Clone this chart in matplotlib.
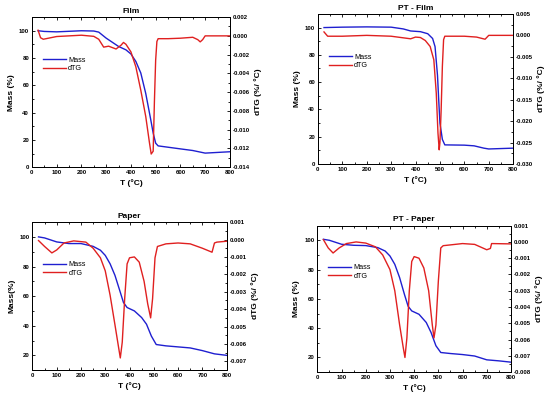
import matplotlib
matplotlib.use("Agg")
import matplotlib.pyplot as plt
from matplotlib.ticker import MultipleLocator, FormatStrFormatter

plt.rcParams['font.family'] = ['Liberation Sans', 'DejaVu Sans']

# ---------------- Data ----------------
film_T_mass = [25, 50, 100, 200, 250, 270, 300, 350, 380, 400, 420, 440, 460, 480, 490, 500, 510, 600, 650, 700, 800]
film_mass = [100, 99.5, 99.2, 100, 99.8, 99, 94.6, 88.5, 86, 83, 77.5, 69, 54, 35, 25, 17.6, 15.6, 13.4, 12.2, 10.3, 11.3]
film_T_dtg = [25, 35, 46, 100, 200, 250, 270, 290, 310, 340, 360, 370, 380, 400, 420, 440, 460, 475, 482, 490, 495, 500, 505, 510, 550, 600, 650, 670, 680, 690, 700, 800]
film_dtg = [0.0006, -0.0002, -0.00036, -0.00007, 0.00007, -0.00005, -0.00036, -0.0012, -0.0011, -0.0014, -0.0010, -0.0007, -0.0009, -0.0017, -0.0033, -0.0058, -0.0086, -0.0114, -0.0126, -0.0123, -0.0070, -0.0026, -0.0006, -0.0003, -0.0003, -0.00025, -0.00015, -0.0004, -0.00064, -0.0004, 0.0, 0.0]

ptf_T_mass = [25, 100, 200, 300, 350, 380, 420, 450, 470, 480, 490, 495, 500, 510, 520, 600, 640, 680, 700, 800]
ptf_mass = [100, 100.3, 100.5, 100.3, 99, 97.5, 97, 95.5, 92, 86, 65, 47, 30, 18, 14, 13.8, 13.3, 11.6, 11, 11.6]
ptf_T_dtg = [25, 40, 100, 200, 300, 380, 400, 420, 440, 460, 475, 485, 492, 497, 500, 505, 510, 515, 520, 600, 650, 685, 700, 800]
ptf_dtg = [0.0008, -0.0002, -0.0002, 0.0, -0.0002, -0.0008, -0.0004, -0.0005, -0.0012, -0.0026, -0.0057, -0.0135, -0.0228, -0.0267, -0.0250, -0.0174, -0.0072, -0.0010, -0.0002, -0.0002, -0.0004, -0.0009, 0.0, 0.0]

pap_T_mass = [25, 50, 100, 150, 200, 250, 280, 300, 320, 340, 360, 375, 390, 420, 450, 470, 490, 510, 550, 600, 650, 700, 750, 800]
pap_mass = [100, 99.3, 96.6, 95.5, 95.5, 93.6, 91, 87.5, 81.8, 74, 63.6, 55.7, 52.3, 50, 45.5, 41, 33, 27.3, 26.4, 25.7, 25, 23.2, 21, 20]
pap_T_dtg = [25, 50, 80, 100, 130, 170, 220, 250, 280, 300, 320, 340, 355, 362, 370, 380, 390, 400, 420, 440, 460, 475, 487, 495, 505, 515, 550, 600, 650, 700, 740, 750, 760, 800]
pap_dtg = [-0.00006, -0.0004, -0.00077, -0.0006, -0.0002, -0.00008, -0.00015, -0.0005, -0.00105, -0.0018, -0.0032, -0.0049, -0.0062, -0.0068, -0.0059, -0.0034, -0.0014, -0.00105, -0.0010, -0.0013, -0.0024, -0.0037, -0.0045, -0.0034, -0.00105, -0.0004, -0.00025, -0.0002, -0.00025, -0.0005, -0.00073, -0.0002, -0.00015, -0.0001]

ptp_T_mass = [25, 50, 100, 150, 200, 250, 280, 300, 320, 340, 360, 375, 390, 420, 450, 470, 490, 510, 550, 600, 650, 700, 750, 800]
ptp_mass = [100.7, 100, 97.3, 96.6, 96.4, 95, 92.7, 89.3, 83.6, 74.5, 63, 55, 51.8, 49.5, 43.9, 37, 28, 23.4, 22.7, 22, 21, 18.4, 17.7, 16.8]
ptp_T_dtg = [25, 45, 65, 90, 120, 160, 200, 240, 270, 300, 320, 340, 355, 362, 370, 380, 390, 400, 420, 440, 460, 475, 482, 490, 500, 510, 520, 600, 650, 700, 715, 720, 800]
ptp_dtg = [0.00014, -0.00037, -0.00068, -0.00037, -0.0001, 0.0, -0.00007, -0.0003, -0.0008, -0.0017, -0.0030, -0.0051, -0.0065, -0.0071, -0.0059, -0.0030, -0.0012, -0.0009, -0.0010, -0.0016, -0.0030, -0.0051, -0.0059, -0.0051, -0.0024, -0.00037, -0.00023, -0.0001, -0.00015, -0.00048, -0.0004, -0.0001, -0.00012]

panels = [
    dict(title="Film", Tm=film_T_mass, m=film_mass, Td=film_T_dtg, d=film_dtg,
         pos=[0.058, 0.580, 0.360, 0.377], ylim=(0, 110), rlim=(-0.014, 0.002),
         rmaj=0.002, ylabel="Mass (%)", fmt="%.3f"),
    dict(title="PT - Film", Tm=ptf_T_mass, m=ptf_mass, Td=ptf_T_dtg, d=ptf_dtg,
         pos=[0.578, 0.588, 0.355, 0.377], ylim=(0, 110), rlim=(-0.030, 0.005),
         rmaj=0.005, ylabel="Mass (%)", fmt="%.3f"),
    dict(title="Paper", Tm=pap_T_mass, m=pap_mass, Td=pap_T_dtg, d=pap_dtg,
         pos=[0.059, 0.070, 0.353, 0.372], ylim=(10, 110), rlim=(-0.0075, 0.001),
         rmaj=0.001, ylabel="Mass(%)", fmt="%.3f"),
    dict(title="PT - Paper", Tm=ptp_T_mass, m=ptp_mass, Td=ptp_T_dtg, d=ptp_dtg,
         pos=[0.577, 0.065, 0.352, 0.368], ylim=(10, 110), rlim=(-0.008, 0.001),
         rmaj=0.001, ylabel="Mass (%)", fmt="%.3f"),
]

BLUE = "#1f1fd0"
RED = "#e02020"
fs_tick = 4.3
fs_lab = 6

fig = plt.figure(figsize=(5.5, 3.98), dpi=100)
for p in panels:
    ax = fig.add_axes(p["pos"])
    l1, = ax.plot(p["Tm"], p["m"], color=BLUE, lw=1.0, label="Mass")
    ax.set_xlim(0, 800)
    ax.set_ylim(*p["ylim"])
    ax.xaxis.set_major_locator(MultipleLocator(100))
    ax.xaxis.set_minor_locator(MultipleLocator(50))
    ax.yaxis.set_major_locator(MultipleLocator(20))
    ax.yaxis.set_minor_locator(MultipleLocator(10))
    ax.tick_params(which="both", direction="in", top=True, labelsize=fs_tick, width=0.6, pad=2)
    ax.tick_params(which="major", length=2.5)
    ax.tick_params(which="minor", length=1.5)
    for lab in ax.get_xticklabels() + ax.get_yticklabels():
        lab.set_fontweight("bold")
    ax.set_xlabel("T (°C)", fontsize=fs_lab, fontweight="bold", labelpad=3)
    ax.set_ylabel(p["ylabel"], fontsize=fs_lab, fontweight="bold", labelpad=3)
    ax.set_title(p["title"], fontsize=fs_lab, fontweight="bold", pad=3)
    for s in ax.spines.values():
        s.set_linewidth(0.7)
    ax2 = ax.twinx()
    l2, = ax2.plot(p["Td"], p["d"], color=RED, lw=1.0, label="dTG")
    ax2.set_ylim(*p["rlim"])
    ax2.yaxis.set_major_locator(MultipleLocator(p["rmaj"]))
    ax2.yaxis.set_minor_locator(MultipleLocator(p["rmaj"] / 2))
    ax2.yaxis.set_major_formatter(FormatStrFormatter(p["fmt"]))
    ax2.tick_params(which="both", direction="in", labelsize=fs_tick, width=0.6, pad=2)
    ax2.tick_params(which="major", length=2.5)
    ax2.tick_params(which="minor", length=1.5)
    for lab in ax2.get_yticklabels():
        lab.set_fontweight("bold")
    ax2.set_ylabel("dTG (%/ °C)", fontsize=fs_lab, fontweight="bold", labelpad=3)
    for s in ax2.spines.values():
        s.set_linewidth(0.7)
    ax.legend([l1, l2], ["Mass", "dTG"], loc="upper left", bbox_to_anchor=(0.03, 0.77),
              frameon=False, fontsize=5.2, handlelength=3.2, handletextpad=0.3,
              labelspacing=0.2, borderpad=0.2)

fig.savefig("out.png", dpi=100)
